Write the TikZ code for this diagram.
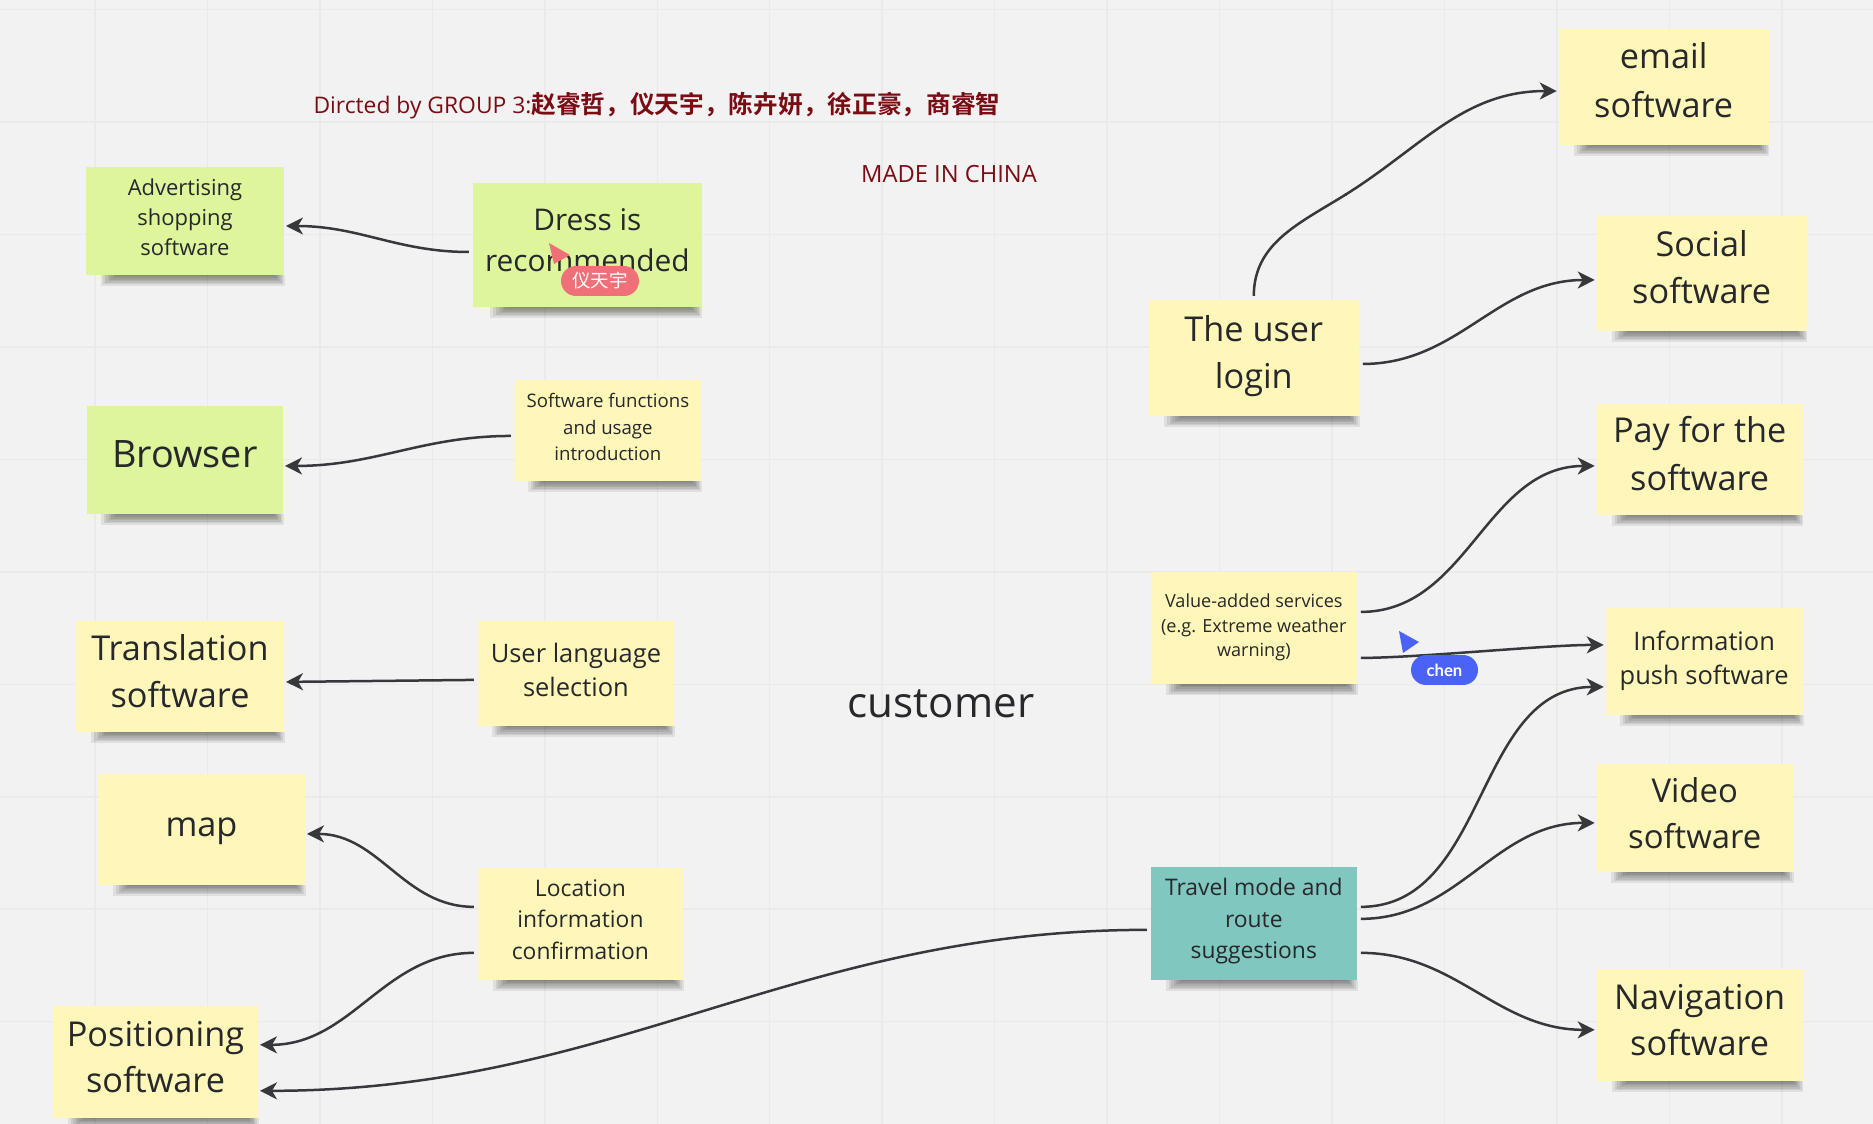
\documentclass[tikz,border=0pt]{standalone}
\usepackage{fontspec}
\setmainfont{Open Sans}
\newfontfamily\cjk{Noto Sans CJK SC Bold}
\newfontfamily\cjklight{Noto Sans CJK SC}
\newfontfamily\cursorfont{Lato Bold}
\usepackage{tikz}
\usetikzlibrary{arrows.meta,calc,positioning}
\definecolor{boardbg}{HTML}{F2F2F2}
\definecolor{gridln}{HTML}{EAEAEA}
\definecolor{noteyellow}{HTML}{FFF7BA}
\definecolor{notegreen}{HTML}{DDF59B}
\definecolor{noteteal}{HTML}{80C7C0}
\definecolor{inktext}{HTML}{26282B}
\definecolor{inkline}{HTML}{36383B}
\definecolor{titlered}{HTML}{7A0C14}
\definecolor{cursorred}{HTML}{F0707A}
\definecolor{cursorblue}{HTML}{4A62F5}
% empty last row, so that the text of a note sits a little above its middle
\newcommand{\nudge}{\\[\dimexpr\liftby-\baselineskip\relax]\mbox{}}
\tikzset{
  note/.style={rectangle,inner sep=0pt,outer sep=.08cm,align=center,text=inktext},
  lift/.code={\def\liftby{#1}},
  yellow/.style={fill=noteyellow},
  green/.style={fill=notegreen},
  teal/.style={fill=noteteal},
  big/.style={font=\fontsize{19.5}{26.5}\selectfont,lift=.22cm},
  mid/.style={font=\fontsize{17}{23.5}\selectfont,lift=.19cm},
  regular/.style={font=\fontsize{14.5}{19.5}\selectfont,lift=.15cm},
  small/.style={font=\fontsize{13}{18}\selectfont,lift=.17cm},
  tiny/.style={font=\fontsize{12.5}{17}\selectfont,lift=.14cm},
  minute/.style={font=\fontsize{10.6}{15}\selectfont,lift=.14cm},
  pill/.style={rectangle,rounded corners=.3cm,text=white,inner sep=0pt,minimum height=.6cm},
  >={Stealth[length=.34cm,width=.34cm,inset=.1cm]}
}
\begin{document}
\begin{tikzpicture}[x=.02cm,y=-.02cm,node distance=4cm,on grid,shorten >=-.04cm]
  \useasboundingbox (0,0) rectangle (1873,1124);
  \fill[boardbg] (0,0) rectangle (1873,1124);
  % board grid
  \foreach \k in {0,...,15}
    \draw[gridln,line width=.03cm] ({95+112.45*\k},0) -- ({95+112.45*\k},1124);
  \foreach \k in {0,...,9}
    \draw[gridln,line width=.03cm] (0,{9.6+112.45*\k}) -- (1873,{9.6+112.45*\k});
  % left side
  \node[note,green,tiny,minimum width=3.96cm,minimum height=2.16cm](adv) at (185,221){Advertising\\shopping\\software\nudge};
  \node[note,green,big,font=\fontsize{21.5}{27}\selectfont,minimum width=3.92cm,minimum height=2.16cm](browser)[below=4.78cm of adv]{Browser\nudge};
  \node[note,yellow,big,minimum width=4.16cm,minimum height=2.22cm](transl)[below=4.33cm of browser,xshift=-.1cm]{Translation\\software\nudge};
  \node[note,yellow,big,lift=.09cm,minimum width=4.14cm,minimum height=2.22cm](map)[below=3.06cm of transl,xshift=.43cm]{map\nudge};
  \node[note,yellow,big,lift=.19cm,minimum width=4.1cm,minimum height=2.24cm](pos)[below=4.65cm of map,xshift=-.92cm]{Positioning\\software\nudge};
  \node[note,green,mid,minimum width=4.58cm,minimum height=2.48cm](dress)[right=8.05cm of adv,yshift=-.48cm]{Dress is\\recommended\nudge};
  \node[note,yellow,minute,minimum width=3.72cm,minimum height=2.02cm](func)[below=3.71cm of dress,xshift=.41cm]{Software functions\\and usage\\introduction\nudge};
  \node[note,yellow,regular,minimum width=3.92cm,minimum height=2.1cm](lang)[below=4.86cm of func,xshift=-.64cm]{User language\\selection\nudge};
  \node[note,yellow,small,minimum width=4.1cm,minimum height=2.24cm](loc)[below=5.01cm of lang,xshift=.09cm]{Location\\information\\confirmation\nudge};
  % right side
  \node[note,yellow,big,font=\fontsize{19.5}{27}\selectfont,lift=.24cm,minimum width=4.2cm,minimum height=2.32cm](login)[right=13.33cm of dress,yshift=-2.26cm]{The user\\login\nudge};
  \node[note,yellow,minute,font=\fontsize{10.3}{14}\selectfont,lift=.12cm,minimum width=4.12cm,minimum height=2.24cm](value)[below=5.41cm of login]{Value-added services\\(e.g. Extreme weather\\warning)\nudge};
  \node[note,teal,small,lift=.19cm,minimum width=4.12cm,minimum height=2.26cm](travel)[below=5.9cm of value]{Travel mode and\\route\\suggestions\nudge};
  \node[note,yellow,big,font=\fontsize{19.5}{27.5}\selectfont,lift=.28cm,minimum width=4.2cm,minimum height=2.32cm](email)[above right=5.42cm and 8.2cm of login]{email\\software\nudge};
  \node[note,yellow,big,font=\fontsize{19.5}{27}\selectfont,lift=.26cm,minimum width=4.2cm,minimum height=2.3cm](social)[below=3.73cm of email,xshift=.76cm]{Social\\software\nudge};
  \node[note,yellow,big,font=\fontsize{19.5}{27}\selectfont,lift=.24cm,minimum width=4.12cm,minimum height=2.22cm](pay)[below=3.72cm of social,xshift=-.04cm]{Pay for the\\software\nudge};
  \node[note,yellow,regular,minimum width=3.94cm,minimum height=2.14cm](info)[below=4.04cm of pay,xshift=.09cm]{Information\\push software\nudge};
  \node[note,yellow,big,font=\fontsize{18.7}{26.5}\selectfont,lift=.19cm,minimum width=3.92cm,minimum height=2.16cm](video)[below=3.13cm of info,xshift=-.19cm]{Video\\software\nudge};
  \node[note,yellow,big,lift=.19cm,minimum width=4.12cm,minimum height=2.24cm](nav)[below=4.14cm of video,xshift=.1cm]{Navigation\\software\nudge};
  % shadows under the notes
  \foreach \n in {adv,browser,transl,map,pos,dress,func,lang,loc,login,value,travel,email,social,pay,info,video,nav}
    \foreach \s in {0,...,6}
      \fill[black,opacity=.08] ($(\n.south west)!{.09+.012*\s}!(\n.south east)+(0,-4)$) rectangle ($(\n.south west)!{.985-.008*\s}!(\n.south east)+(0,{7-1.6*\s})$);
  % free texts
  \node[text=inktext,font=\fontsize{24}{30}\selectfont](cust) at (941,704){customer};
  \node[text=titlered,font=\fontsize{13}{17}\selectfont](title) at (657,106){Dircted by GROUP 3:{\cjk\fontsize{14.05}{17}\selectfont 赵睿哲，仪天宇，陈卉妍，徐正豪，商睿智}};
  \node[text=titlered,font=\fontsize{13.5}{17}\selectfont](made) at (949,174){MADE IN CHINA};
  % connectors
  \coordinate (bend) at (1345,195);
  \path[->,color=inkline,line width=.05cm]
    (login.north) edge[-,out=90,in=212] (bend)
    (bend) edge[out=32,in=180] ([yshift=-.08cm]email.west)
    ([yshift=-.12cm]login.east) edge[out=0,in=180] ([yshift=-.13cm]social.west)
    ([yshift=.33cm]value.east) edge[out=0,in=180] ([yshift=-.13cm]pay.west)
    ([yshift=-.59cm]value.east) edge[out=0,in=180,looseness=.6] ([yshift=.33cm]info.west)
    ([yshift=.33cm]travel.east) edge[out=0,in=180] ([yshift=-.51cm]info.west)
    ([yshift=.09cm]travel.east) edge[out=0,in=180] ([yshift=-.1cm]video.west)
    ([yshift=-.59cm]travel.east) edge[out=0,in=180] ([yshift=-.1cm]nav.west)
    ([yshift=-.13cm]travel.west) edge[out=180,in=0] ([yshift=-.58cm]pos.east)
    ([yshift=-.58cm]loc.west) edge[out=180,in=0] ([yshift=.34cm]pos.east)
    ([yshift=.34cm]loc.west) edge[out=180,in=0] ([yshift=-.09cm]map.east)
    ([yshift=-.13cm]lang.west) edge ([yshift=-.11cm]transl.east)
    ([yshift=-.11cm]func.west) edge[out=180,in=0] ([yshift=-.12cm]browser.east)
    ([yshift=-.14cm]dress.west) edge[out=180,in=0] ([yshift=-.1cm]adv.east);
  % cursors
  \fill[cursorred] (549,243) -- (570,255) -- (554,264) -- cycle;
  \node[pill,fill=cursorred,minimum width=1.56cm,font=\cjklight\fontsize{10.5}{12}\selectfont](yitianyu) at (600,281){仪天宇};
  \fill[cursorblue] (1399,631) -- (1419,642) -- (1403,653) -- cycle;
  \node[pill,fill=cursorblue,minimum width=1.34cm,font=\cursorfont\fontsize{9.5}{12}\selectfont](chen) at (1444.5,670){chen};
\end{tikzpicture}
\end{document}
